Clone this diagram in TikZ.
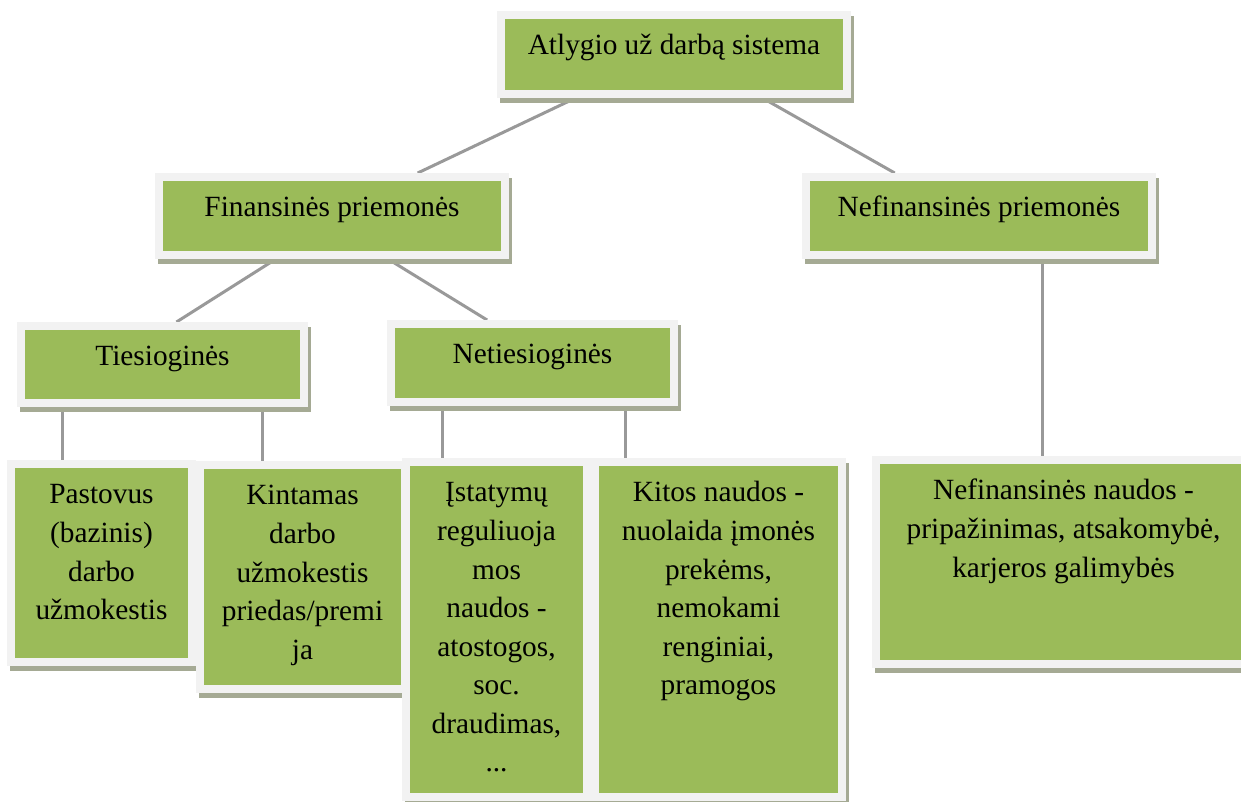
\documentclass[tikz,border=0pt]{standalone}
\usepackage{fontspec}
\setmainfont{Liberation Serif}
\usetikzlibrary{calc,shadows}
\pgfdeclarelayer{background}
\pgfsetlayers{background,main}
\newlength\pxl
\setlength\pxl{0.75pt}
\definecolor{boxgreen}{HTML}{9BBB59}
\definecolor{framegrey}{HTML}{F2F2F2}
\definecolor{shadowgrey}{HTML}{A5AA94}
\definecolor{linkgrey}{HTML}{999999}
% width, height (px), text: top-aligned, centred lines
\newcommand\cellcontent[3]{\parbox[c][#2\pxl][t]{#1\pxl}{\fontsize{22pt}{28.9pt}\selectfont\centering\vspace*{17\pxl}\strut #3\par}}
\tikzset{
  cell/.style={anchor=north west, inner sep=0pt, outer sep=0pt, fill=framegrey,
    drop shadow={shadow xshift=3\pxl, shadow yshift=-5\pxl, fill=shadowgrey, opacity=1},
    path picture={\fill[boxgreen] ([xshift=8\pxl,yshift=-8\pxl]path picture bounding box.north west)
      rectangle ([xshift=-8\pxl,yshift=8\pxl]path picture bounding box.south east);}},
  link/.style={draw=linkgrey, line width=3\pxl}
}
\begin{document}
\begin{tikzpicture}[x=0.75pt, y=-0.75pt]
\useasboundingbox (0,0) rectangle (1241,801);

\node[cell] (top) at (497,11) {\cellcontent{354}{87}{Atlygio už darbą sistema}};
\node[cell] (fin) at (155,173) {\cellcontent{354}{86}{Finansinės priemonės}};
\node[cell] (nef) at (802,173) {\cellcontent{354}{86}{Nefinansinės priemonės}};
\node[cell] (ties) at (17,322) {\cellcontent{291}{85}{Tiesioginės}};
\node[cell] (neties) at (387,320) {\cellcontent{291}{86}{Netiesioginės}};
\node[cell] (past) at (7,460) {\cellcontent{189}{206}{Pastovus\\(bazinis)\\darbo\\užmokestis}};
\node[cell] (kint) at (196,461) {\cellcontent{213}{232}{Kintamas\\darbo\\užmokestis\\priedas/premi\\ja}};
\node[cell] (ist) at (402,458) {\cellcontent{189}{343}{Įstatymų\\reguliuoja\\mos\\naudos -\\atostogos,\\soc.\\draudimas,\\...}};
\node[cell] (kitos) at (591,458) {\cellcontent{255}{343}{Kitos naudos -\\nuolaida įmonės\\prekėms,\\nemokami\\renginiai,\\pramogos}};
\node[cell] (nefn) at (872,456) {\cellcontent{383}{212}{Nefinansinės naudos -\\pripažinimas, atsakomybė,\\karjeros galimybės}};

\begin{pgfonlayer}{background}
\fill[white] (0,0) rectangle (1241,801);
\draw[link] ($(top.south west)!0.222!(top.south east)$) -- ($(fin.north west)!0.742!(fin.north east)$);
\draw[link] ($(top.south west)!0.75!(top.south east)$) -- ($(nef.north west)!0.262!(nef.north east)$);
\draw[link] ($(fin.south west)!0.3415!(fin.south east)$) -- ($(ties.north west)!0.548!(ties.north east)$);
\draw[link] ($(fin.south west)!0.658!(fin.south east)$) -- ($(neties.north west)!0.344!(neties.north east)$);
\coordinate (tp) at ($(ties.south west)!0.155!(ties.south east)$);
\coordinate (tk) at ($(ties.south west)!0.845!(ties.south east)$);
\coordinate (ni) at ($(neties.south west)!0.192!(neties.south east)$);
\coordinate (nk) at ($(neties.south west)!0.818!(neties.south east)$);
\coordinate (nn) at ($(nef.south west)!0.678!(nef.south east)$);
\draw[link] (tp) -- (tp |- past.north);
\draw[link] (tk) -- (tk |- kint.north);
\draw[link] (ni) -- (ni |- ist.north);
\draw[link] (nk) -- (nk |- kitos.north);
\draw[link] (nn) -- (nn |- nefn.north);
\end{pgfonlayer}
\end{tikzpicture}
\end{document}
